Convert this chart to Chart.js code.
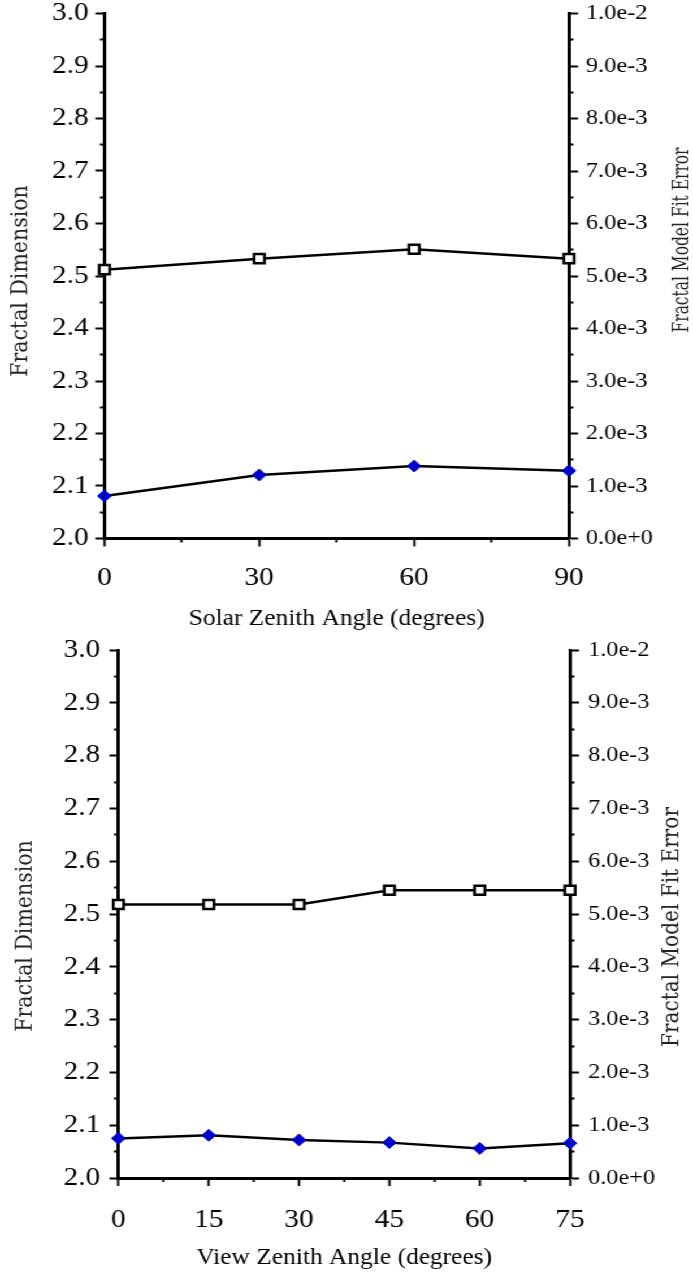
<!DOCTYPE html>
<html>
<head>
<meta charset="utf-8">
<script src="https://cdn.jsdelivr.net/npm/chart.js@4/dist/chart.umd.min.js"></script>
<style>
html, body { margin: 0; padding: 0; background: #fff; overflow: hidden; }
/* the reference figure is stretched sideways a little, so draw narrower and stretch */
#wrap { position: absolute; left: 0; top: 0; width: 613px; height: 1272px; transform-origin: 0 0; transform: scaleX(1.1305); }
canvas { position: absolute; left: 0; }
#c1 { top: 0; }
#c2 { top: 636px; }
</style>
</head>
<body>
<div id="wrap">
  <canvas id="c1" width="613" height="636"></canvas>
  <canvas id="c2" width="613" height="636"></canvas>
</div>
<script>
// top panel: solar zenith angle
const solarAngles = [0, 30, 60, 90];
const solarDimension = [2.512, 2.533, 2.551, 2.533];
const solarFitError = [0.00081, 0.00121, 0.00138, 0.00129];
const solarTicks = [0, 30, 60, 90];
const solarMinorTicks = [15, 45, 75];

// bottom panel: view zenith angle
const viewAngles = [0, 15, 30, 45, 60, 75];
const viewDimension = [2.518, 2.518, 2.518, 2.545, 2.545, 2.545];
const viewFitError = [0.00075, 0.00081, 0.00072, 0.00067, 0.00056, 0.00066];
const viewTicks = [0, 15, 30, 45, 60, 75];
const viewMinorTicks = [7.5, 22.5, 37.5, 52.5, 67.5];

// shared y axes
const dimTicks = [2.0, 2.1, 2.2, 2.3, 2.4, 2.5, 2.6, 2.7, 2.8, 2.9, 3.0];
const dimMinorTicks = [2.05, 2.15, 2.25, 2.35, 2.45, 2.55, 2.65, 2.75, 2.85, 2.95];
const errTicks = [0, 0.001, 0.002, 0.003, 0.004, 0.005, 0.006, 0.007, 0.008, 0.009, 0.01];
const errMinorTicks = [0.0005, 0.0015, 0.0025, 0.0035, 0.0045, 0.0055, 0.0065, 0.0075, 0.0085, 0.0095];

const TICK_FONT = '"Liberation Serif", "Times New Roman", serif';
const SIDE_FONT = '20.5px "DejaVu Serif", serif';

function tickList(values) {
    return function (scale) { scale.ticks = values.map(v => ({ value: v })); };
}
function fixSize(size) {
    return function (scale) {
        if (scale.isHorizontal()) scale.height = size; else scale.width = size;
        scale.paddingTop = 0; scale.paddingBottom = 0;
        scale.paddingLeft = 0; scale.paddingRight = 0;
    };
}

// vertical axis titles, both read bottom to top
const sideTitles = {
    id: 'sideTitles',
    afterDraw(chart, args, opts) {
        const ctx = chart.ctx;
        for (const t of opts.items) {
            ctx.save();
            ctx.font = SIDE_FONT;
            ctx.fillStyle = '#222';
            ctx.textAlign = 'center';
            ctx.textBaseline = 'middle';
            ctx.translate(t.x, t.y);
            ctx.rotate(-Math.PI / 2);
            ctx.fillText(t.text, 0, 0, t.maxWidth);
            ctx.restore();
        }
    }
};

function makePanel(id, angles, dim, err, xTicks, xMinor, xTitle, box) {
    const W = 613, H = 636;
    const axisGrid = (len) => ({ drawOnChartArea: false, drawTicks: true, tickLength: len, tickWidth: 2, tickColor: '#000', color: '#000' });
    const minor = (pos, ticks, min, max) => ({
        type: 'linear', position: pos, weight: 0, min: min, max: max,
        ticks: { display: false },
        grid: axisGrid(4),
        border: { display: false },
        afterBuildTicks: tickList(ticks),
        afterFit: fixSize(0)
    });
    new Chart(document.getElementById(id), {
        type: 'line',
        data: {
            datasets: [
                {
                    label: 'Fractal Dimension',
                    data: angles.map((a, i) => ({ x: a, y: dim[i] })),
                    xAxisID: 'x', yAxisID: 'y',
                    borderColor: '#000', borderWidth: 2.5,
                    pointStyle: 'rect', pointRadius: 6.5,
                    pointBackgroundColor: '#fff', pointBorderColor: '#000', pointBorderWidth: 2.5,
                    clip: false
                },
                {
                    label: 'Fractal Model Fit Error',
                    data: angles.map((a, i) => ({ x: a, y: err[i] })),
                    xAxisID: 'x', yAxisID: 'y2',
                    borderColor: '#000', borderWidth: 2.5,
                    pointStyle: 'rectRot', pointRadius: 6,
                    pointBackgroundColor: '#0000cc', pointBorderColor: '#0000cc', pointBorderWidth: 1,
                    clip: false
                }
            ]
        },
        options: {
            responsive: false,
            animation: false,
            devicePixelRatio: 1,
            layout: { padding: { top: box.top, left: 0, right: 0, bottom: 0 } },
            plugins: {
                legend: { display: false },
                tooltip: { enabled: false },
                sideTitles: { items: box.titles }
            },
            elements: { line: { tension: 0 } },
            scales: {
                x: {
                    type: 'linear', position: 'bottom', weight: 1,
                    min: xTicks[0], max: xTicks[xTicks.length - 1],
                    ticks: { font: { family: TICK_FONT, size: 26 }, color: '#000', padding: box.xPad, autoSkip: false, maxRotation: 0 },
                    grid: axisGrid(8),
                    border: { display: true, color: '#000', width: 3 },
                    title: { display: true, text: xTitle, color: '#000', font: { family: TICK_FONT, size: 22.5 }, padding: { top: 0, bottom: box.titlePad } },
                    afterBuildTicks: tickList(xTicks),
                    afterFit: fixSize(H - box.bottom)
                },
                xMinor: minor('bottom', xMinor, xTicks[0], xTicks[xTicks.length - 1]),
                y: {
                    type: 'linear', position: 'left', weight: 1, min: 2.0, max: 3.0,
                    ticks: { font: { family: TICK_FONT, size: 26 }, color: '#000', padding: box.leftPad, autoSkip: false, callback: v => v.toFixed(1) },
                    grid: axisGrid(8),
                    border: { display: true, color: '#000', width: 3 },
                    afterBuildTicks: tickList(dimTicks),
                    afterFit: fixSize(box.left)
                },
                yMinor: minor('left', dimMinorTicks, 2.0, 3.0),
                y2: {
                    type: 'linear', position: 'right', weight: 1, min: 0, max: 0.01,
                    ticks: { font: { family: TICK_FONT, size: 21.5 }, color: '#000', padding: box.rightPad, autoSkip: false, callback: v => v.toExponential(1) },
                    grid: axisGrid(8),
                    border: { display: true, color: '#000', width: 3 },
                    afterBuildTicks: tickList(errTicks),
                    afterFit: fixSize(W - box.right)
                },
                y2Minor: minor('right', errMinorTicks, 0, 0.01)
            }
        },
        plugins: [sideTitles]
    });
}

makePanel('c1', solarAngles, solarDimension, solarFitError, solarTicks, solarMinorTicks,
    'Solar Zenith Angle (degrees)',
    { left: 92.4, right: 503.3, top: 13.5, bottom: 538.5, xPad: 16, titlePad: 3, leftPad: 6, rightPad: 7,
      titles: [
          { text: 'Fractal Dimension', x: 19, y: 281, maxWidth: 200 },
          { text: 'Fractal Model Fit Error', x: 604, y: 240, maxWidth: 185 }
      ] });

makePanel('c2', viewAngles, viewDimension, viewFitError, viewTicks, viewMinorTicks,
    'View Zenith Angle (degrees)',
    { left: 104.8, right: 504.2, top: 14, bottom: 542, xPad: 19, titlePad: 0, leftPad: 8, rightPad: 8,
      titles: [
          { text: 'Fractal Dimension', x: 23, y: 300, maxWidth: 200 },
          { text: 'Fractal Model Fit Error', x: 595, y: 291, maxWidth: 240 }
      ] });
</script>
</body>
</html>
